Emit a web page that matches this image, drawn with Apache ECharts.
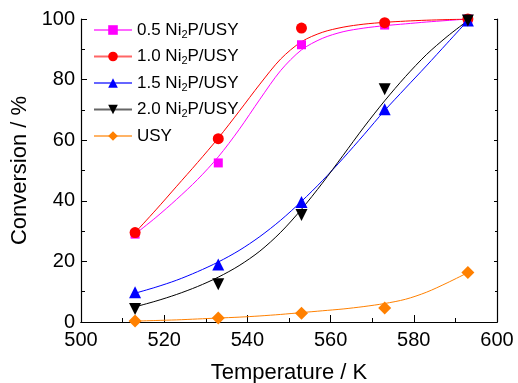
<!DOCTYPE html>
<html>
<head>
<meta charset="utf-8">
<script src="https://cdn.jsdelivr.net/npm/echarts@6/dist/echarts.min.js"></script>
<style>
html,body{margin:0;padding:0;background:#fff;}
#chart{width:518px;height:383px;}
</style>
</head>
<body>
<div id="chart"></div>
<script>
// measured points
var tempK = [513, 533, 553, 573, 593];
var conv05 = [29, 52.5, 91.5, 98, 100];
var conv10 = [29.5, 60.5, 97, 98.8, 100];
var conv15 = [9.8, 19, 39.6, 70.2, 99.5];
var conv20 = [4.3, 12.5, 35.3, 76.8, 99.5];
var convUSY = [0.3, 1.3, 2.9, 4.6, 16.3];

// fitted curves
var curveT = [513, 518, 523, 528, 533, 538, 543, 548, 553, 558, 563, 568, 573, 578, 583, 588, 593];
var fit05 = [29, 34.5, 40.5, 47, 54.5, 63.5, 73.5, 83, 89.8, 93.6, 95.8, 97.0, 97.8, 98.4, 99, 99.5, 100];
var fit10 = [29.5, 37, 44.8, 52.6, 60.7, 69.5, 78.5, 86.8, 92.5, 95.6, 97.3, 98.3, 98.9, 99.3, 99.6, 99.8, 100];
var fit15 = [9.5, 11.5, 13.8, 16.6, 19.8, 23.6, 28.2, 33.6, 39.8, 46.6, 54, 61.8, 69.8, 77.2, 84.5, 92, 99.5];
var fit20 = [5, 6.9, 9.1, 11.7, 14.8, 18.6, 23.4, 29.6, 37.2, 45.8, 55, 64.3, 73, 81, 88.2, 94.2, 99.5];
var fitUSY = [0.3, 0.5, 0.7, 1, 1.3, 1.6, 2, 2.5, 3.1, 3.7, 4.3, 5.1, 6.1, 7.5, 9.8, 12.9, 16.3];

var names = ['0.5 Ni2P/USY', '1.0 Ni2P/USY', '1.5 Ni2P/USY', '2.0 Ni2P/USY', 'USY'];
var colors = ['#ff00ff', '#ff0000', '#0000ff', '#000000', '#ff8000'];
var symbols = ['rect', 'circle', 'triangle', 'triangle', 'diamond'];
var rotates = [0, 0, 0, 180, 0];
var sizes = [9, 11, 12, 12, 13];
var pts = [conv05, conv10, conv15, conv20, convUSY];
var fits = [fit05, fit10, fit15, fit20, fitUSY];

function pair(xs, ys) { return xs.map(function (x, i) { return [x, ys[i]]; }); }

var series = [];
for (var i = 0; i < 5; i++) {
  series.push({
    name: names[i], type: 'line', smooth: 0.3, data: pair(curveT, fits[i]),
    showSymbol: false, symbol: symbols[i], symbolRotate: rotates[i],
    lineStyle: { color: colors[i], width: 1 }, itemStyle: { color: colors[i] },
    silent: true, z: 2
  });
}
for (var j = 0; j < 5; j++) {
  series.push({
    name: 'pts' + j, type: 'scatter', data: pair(tempK, pts[j]),
    symbol: symbols[j], symbolRotate: rotates[j], symbolSize: sizes[j],
    itemStyle: { color: colors[j], opacity: 1 }, z: 3 + j
  });
}

var font = 'Liberation Sans, Arial, sans-serif';
var axisLine = { show: true, lineStyle: { color: '#000', width: 1.2 } };

var chart = echarts.init(document.getElementById('chart'), null, { renderer: 'canvas' });
chart.setOption({
  animation: false,
  backgroundColor: '#fff',
  grid: { left: 81, right: 21, top: 19, bottom: 61, containLabel: false, outerBoundsMode: 'none' },
  legend: {
    orient: 'vertical', left: 88, top: 15,
    data: names, itemWidth: 38, itemHeight: 12, itemGap: 6.5,
    lineStyle: { opacity: 0.6 },
    formatter: function (n) { return n.replace('Ni2P', 'Ni{s|2}P'); },
    textStyle: {
      fontFamily: font, fontSize: 17, color: '#000', lineHeight: 20,
      rich: { s: { fontFamily: font, fontSize: 11, lineHeight: 11, verticalAlign: 'bottom', color: '#000' } }
    }
  },
  xAxis: [{
    type: 'value', min: 500, max: 600, interval: 20,
    name: 'Temperature / K', nameLocation: 'middle', nameGap: 40,
    nameTextStyle: { fontFamily: font, fontSize: 22, color: '#000' },
    axisLine: axisLine,
    axisTick: { inside: true, length: 7, lineStyle: { color: '#000' } },
    minorTick: { show: true, splitNumber: 2, length: 4, lineStyle: { color: '#000' } },
    axisLabel: { fontFamily: font, fontSize: 20, color: '#000', margin: 8 },
    splitLine: { show: false }
  }, {
    type: 'value', position: 'top', min: 500, max: 600, interval: 20,
    axisLine: axisLine, axisTick: { show: false }, axisLabel: { show: false }, splitLine: { show: false }
  }],
  yAxis: [{
    type: 'value', min: 0, max: 100, interval: 20,
    name: 'Conversion / %', nameLocation: 'middle', nameGap: 44,
    nameTextStyle: { fontFamily: font, fontSize: 22, color: '#000' },
    axisLine: axisLine,
    axisTick: { inside: true, length: 6, lineStyle: { color: '#000' } },
    minorTick: { show: true, splitNumber: 2, length: 4, lineStyle: { color: '#000' } },
    axisLabel: { fontFamily: font, fontSize: 20, color: '#000', margin: 6 },
    splitLine: { show: false }
  }, {
    type: 'value', position: 'right', min: 0, max: 100, interval: 20,
    axisLine: axisLine,
    axisTick: { inside: true, length: 3, lineStyle: { color: '#000' } },
    minorTick: { show: true, splitNumber: 2, length: 2, lineStyle: { color: '#000' } },
    axisLabel: { show: false }, splitLine: { show: false }
  }],
  series: series
});
</script>
</body>
</html>
